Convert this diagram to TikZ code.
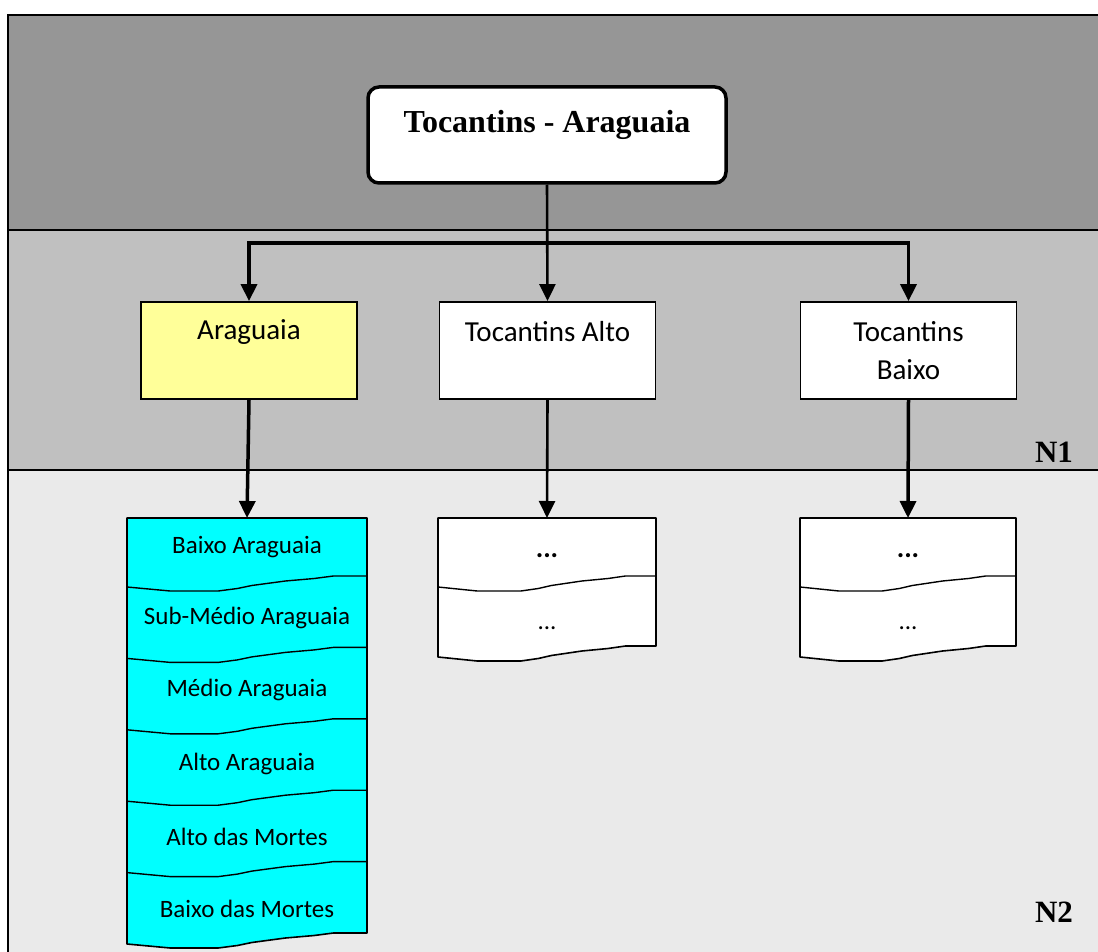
\documentclass[tikz,border=0pt]{standalone}
\usepackage{fontspec}
\setmainfont{Carlito}
\newfontfamily\timesf{Liberation Serif}
\usetikzlibrary{arrows.meta}
\definecolor{bandA}{HTML}{969696}
\definecolor{bandB}{HTML}{C0C0C0}
\definecolor{bandC}{HTML}{EAEAEA}
\definecolor{yellowc}{HTML}{FFFF99}
\definecolor{cyanc}{HTML}{00FFFF}
\newcommand{\stackshape}[5]{%
 \filldraw[fill=#5, line width=1.6pt, line join=round] (#1,#3) -- ({#1+#2},#3) -- ({#1+#2},{#4-11}) -- ({#1+0.86*#2},{#4-11}) -- ({#1+0.78*#2},{#4-8.5}) -- ({#1+0.66*#2},{#4-6}) -- ({#1+0.52*#2},{#4-1.5}) -- ({#1+0.46*#2},{#4+1.5}) -- ({#1+0.38*#2},{#4+4}) -- ({#1+0.18*#2},{#4+4}) -- (#1,#4) -- cycle;}
\newcommand{\sepline}[3]{%
 \draw[line width=1.4pt, line join=round] (#1,#3) -- ({#1+0.18*#2},{#3+4}) -- ({#1+0.38*#2},{#3+4}) -- ({#1+0.46*#2},{#3+1.5}) -- ({#1+0.52*#2},{#3-1.5}) -- ({#1+0.66*#2},{#3-6}) -- ({#1+0.78*#2},{#3-8.5}) -- ({#1+0.86*#2},{#3-11}) -- ({#1+#2},{#3-11});}
\begin{document}
\begin{tikzpicture}[x=1pt,y=-1pt,
  topbox/.style={draw, line width=3.5pt, fill=white, rounded corners=11pt, minimum width=358pt, minimum height=96pt, inner sep=0pt},
  titletext/.style={font=\timesf\bfseries\fontsize{32}{36}\selectfont, inner sep=0pt},
  lvbox/.style={draw, line width=1.8pt, fill=white, minimum width=216pt, minimum height=97pt, inner sep=0pt},
  lvtext/.style={font=\fontsize{29}{38}\selectfont, align=center, inner sep=0pt},
  sttext/.style={font=\fontsize{25}{30}\selectfont, inner sep=0pt},
  dottext/.style={font=\bfseries\fontsize{28}{30}\selectfont, inner sep=0pt},
  stackarea/.style={inner sep=0pt, anchor=north},
  levtext/.style={font=\timesf\bfseries\fontsize{31}{34}\selectfont, inner sep=0pt},
  thickarrow/.style={line width=3.5pt, -{Triangle[length=17pt,width=16pt]}},
  thinarrow/.style={line width=2.6pt, -{Triangle[length=17pt,width=16pt]}}
]
\useasboundingbox (0,0) rectangle (1098,952);
\fill[white] (0,0) rectangle (1098,952);
% bands
\fill[bandA] (8,15) rectangle (1098,230);
\fill[bandB] (8,230) rectangle (1098,470);
\fill[bandC] (8,470) rectangle (1098,952);
\draw[line width=2pt] (8,952) -- (8,15) -- (1098,15);
\draw[line width=2pt] (8,230) -- (1098,230);
\draw[line width=2pt] (8,470) -- (1098,470);
\node[levtext] (n1) at (1054,452) {N1};
\node[levtext] (n2) at (1054,912) {N2};
% top
\node[topbox] (top) at (547,135) {};
\node[titletext] (toptext) at (547,125) {Tocantins - Araguaia};
% level 1
\node[lvbox, fill=yellowc] (arag) at (249,350.5) {};
\node[lvtext] (aragt) at (249,332) {Araguaia};
\node[lvbox] (talto) at (547.5,350.5) {};
\node[lvtext] (taltot) at (547.5,332) {Tocantins Alto};
\node[lvbox] (tbaixo) at (908.5,350.5) {};
\node[lvtext] (tbaixot) at (908.5,351) {Tocantins\\Baixo};
% connectors level 0 -> 1
\coordinate (j) at (547,243);
\draw[thinarrow] (top.south) -- (talto.north);
\draw[thickarrow] (j) -| (arag.north);
\draw[thickarrow] (j) -| (tbaixo.north);
% cyan stack
\stackshape{127}{240}{518}{944}{cyanc}
\sepline{127}{240}{587}
\sepline{127}{240}{658.4}
\sepline{127}{240}{729.8}
\sepline{127}{240}{801.2}
\sepline{127}{240}{872.6}
\node[stackarea, minimum width=240pt, minimum height=420pt] (cstack) at (247,518) {};
\node[sttext] (c1) at (247,547) {Baixo Araguaia};
\node[sttext] (c2) at (247,618) {Sub-Médio Araguaia};
\node[sttext] (c3) at (247,690) {Médio Araguaia};
\node[sttext] (c4) at (247,764) {Alto Araguaia};
\node[sttext] (c5) at (247,837) {Alto das Mortes};
\node[sttext] (c6) at (247,909) {Baixo das Mortes};
% dots stacks
\stackshape{438}{218}{518}{657}{white}
\sepline{438}{218}{587}
\node[stackarea, minimum width=218pt, minimum height=140pt] (dalto) at (547,518) {};
\node[dottext] (da1) at (547,556) {...};
\node[sttext] (da2) at (547,628) {...};
\stackshape{800}{216}{518}{657}{white}
\sepline{800}{216}{587}
\node[stackarea, minimum width=216pt, minimum height=140pt] (dbaixo) at (908,518) {};
\node[dottext] (db1) at (908,556) {...};
\node[sttext] (db2) at (908,628) {...};
% connectors level 1 -> 2
\draw[thickarrow] (arag.south) -- (cstack.north);
\draw[thinarrow] (talto.south) -- (dalto.north);
\draw[thickarrow] (tbaixo.south) -- (dbaixo.north);
\end{tikzpicture}
\end{document}
